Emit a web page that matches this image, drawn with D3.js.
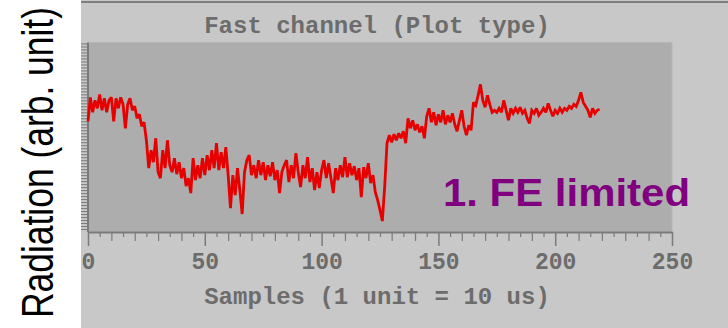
<!DOCTYPE html>
<html>
<head>
<meta charset="utf-8">
<script src="https://cdn.jsdelivr.net/npm/d3@7"></script>
<style>
  html, body { margin: 0; padding: 0; background: #ffffff; }
  svg { display: block; }
</style>
</head>
<body>
<svg id="chart" width="728" height="328"></svg>
<script>
// Fast-channel radiation trace, one value per sample (arbitrary units)
const radiation = [
  // samples 0-24: flat start
  111, 135, 120, 132, 124, 138, 122, 134, 120, 132,
  135, 111, 134, 124, 135, 128, 104, 128, 134, 122,
  126, 114, 118, 106, 110,
  // samples 25-44: drop
  92, 64, 82, 70, 94, 60, 54, 82, 64, 92,
  67, 60, 74, 58, 70, 54, 64, 46, 54, 39,
  // samples 45-60
  74, 52, 67, 54, 74, 57, 77, 62, 82, 64,
  89, 62, 80, 64, 85, 57,
  // samples 61-70
  24, 57, 37, 64, 42, 18, 60, 72, 77, 57,
  // samples 71-94
  67, 54, 72, 57, 70, 52, 67, 56, 70, 52,
  62, 39, 60, 67, 72, 50, 67, 54, 79, 60,
  45, 67, 54, 75,
  // samples 95-124
  50, 64, 42, 60, 44, 62, 72, 54, 69, 54,
  39, 64, 52, 67, 55, 75, 55, 69, 57, 66,
  52, 64, 35, 65, 54, 69, 49, 57, 40, 32,
  // samples 125-127: dip before recovery
  22, 11, 45,
  // samples 128-165
  89, 97, 90, 98, 92, 99, 94, 101, 89, 114,
  104, 112, 102, 108, 100, 106, 94, 116, 124, 110,
  120, 107, 118, 110, 122, 108, 117, 110, 119, 108,
  101, 112, 122, 106, 97, 107, 102, 130,
  // samples 166-219: upper plateau
  127, 137, 148, 132, 125, 137, 128, 120, 122, 120,
  124, 120, 132, 122, 112, 124, 119, 124, 120, 125,
  119, 122, 114, 109, 122, 119, 124, 117, 120, 124,
  120, 129, 122, 116, 122, 119, 124, 120, 124, 122,
  126, 124, 128, 126, 132, 140, 130, 126, 122, 115,
  124, 119, 122, 123
];

const xMajorTicks = [0, 50, 100, 150, 200, 250];
const titleText = "Fast channel (Plot type)";
const xLabelText = "Samples (1 unit = 10 us)";
const yLabelText = "Radiation (arb. unit)";
const noteText = "1. FE limited";

const svg = d3.select("#chart");
const W = 728, H = 328;
const plot = { left: 88, right: 672, top: 42.5, bottom: 232 };

const x = d3.scaleLinear().domain([0, 250]).range([plot.left, plot.right]);
const y = d3.scaleLinear().domain([0, 190]).range([plot.bottom, plot.top]);

const monoFont = "'Liberation Mono', 'DejaVu Sans Mono', monospace";
const greyText = "#6c6c6c";
const axisGrey = "#7a7a7a";

// outer instrument panel
svg.append("rect").attr("x", 0).attr("y", 0).attr("width", W).attr("height", H).attr("fill", "#ffffff");
svg.append("rect").attr("x", 81).attr("y", 0).attr("width", W - 81).attr("height", H).attr("fill", "#c8c8c8");
svg.append("line").attr("x1", 81).attr("x2", W).attr("y1", 2).attr("y2", 2)
  .attr("stroke", "#7e7e7e").attr("stroke-width", 2);

// plotting surface
svg.append("rect")
  .attr("x", plot.left).attr("y", plot.top)
  .attr("width", plot.right - plot.left).attr("height", plot.bottom - plot.top)
  .attr("fill", "#adadad").attr("stroke", "#b6b6b6").attr("stroke-width", 1);

// title
svg.append("text")
  .attr("x", (plot.left + plot.right) / 2 - 3).attr("y", 33)
  .attr("text-anchor", "middle")
  .attr("font-family", monoFont).attr("font-weight", "bold").attr("font-size", 24)
  .attr("fill", greyText).text(titleText);

// y axis: dense unlabeled ticks
const yAxis = d3.axisLeft(y).tickValues(d3.range(3, 190, 3)).tickSize(7).tickFormat("");
const gy = svg.append("g").attr("transform", `translate(${plot.left},0)`).call(yAxis);
gy.select(".domain").remove();
gy.selectAll(".tick line").attr("stroke", axisGrey).attr("stroke-width", 1);

// x axis: minor ticks every 5, medium every 10, major every 50
const minorVals = d3.range(0, 251, 5).filter(v => v % 50 !== 0);
const gxMinor = svg.append("g").attr("transform", `translate(0,${plot.bottom})`)
  .call(d3.axisBottom(x).tickValues(minorVals).tickSize(5).tickFormat(""));
gxMinor.select(".domain").remove();
gxMinor.selectAll(".tick line")
  .attr("y2", d => (d % 10 === 0 ? 9 : 5))
  .attr("stroke", axisGrey).attr("stroke-width", 1.2);

const gx = svg.append("g").attr("transform", `translate(0,${plot.bottom})`)
  .call(d3.axisBottom(x).tickValues(xMajorTicks).tickSize(14).tickSizeOuter(0));
gx.select(".domain").attr("stroke", axisGrey).attr("stroke-width", 2);
gx.selectAll(".tick line").attr("stroke", axisGrey).attr("stroke-width", 1.5);
gx.selectAll(".tick text")
  .attr("y", 37).attr("dy", 0)
  .attr("font-family", monoFont).attr("font-weight", "bold").attr("font-size", 23)
  .attr("fill", greyText);

// vertical axis line
svg.append("line")
  .attr("x1", plot.left).attr("x2", plot.left)
  .attr("y1", plot.top).attr("y2", plot.bottom)
  .attr("stroke", axisGrey).attr("stroke-width", 2);

// x axis label
svg.append("text")
  .attr("x", (plot.left + plot.right) / 2 - 3).attr("y", 304)
  .attr("text-anchor", "middle")
  .attr("font-family", monoFont).attr("font-weight", "bold").attr("font-size", 24)
  .attr("fill", greyText).text(xLabelText);

// radiation trace
const line = d3.line()
  .x((d, i) => x(i))
  .y(d => y(d));
svg.append("path")
  .datum(radiation)
  .attr("d", line)
  .attr("fill", "none")
  .attr("stroke", "#e60000")
  .attr("stroke-width", 2.8)
  .attr("stroke-linejoin", "miter")
  .attr("stroke-miterlimit", 2.5);

// annotation
svg.append("text")
  .attr("x", 443).attr("y", 206)
  .attr("font-family", "'Liberation Sans', Arial, sans-serif")
  .attr("font-weight", "bold").attr("font-size", 38)
  .attr("textLength", 247).attr("lengthAdjust", "spacingAndGlyphs")
  .attr("fill", "#800080").text(noteText);

// y axis label on the white margin
svg.append("text")
  .attr("transform", "translate(53,318) rotate(-90)")
  .attr("x", 0).attr("y", 0)
  .attr("font-family", "'Liberation Sans', Arial, sans-serif")
  .attr("font-size", 45)
  .attr("textLength", 311).attr("lengthAdjust", "spacingAndGlyphs")
  .attr("fill", "#000000").text(yLabelText);
</script>
</body>
</html>
